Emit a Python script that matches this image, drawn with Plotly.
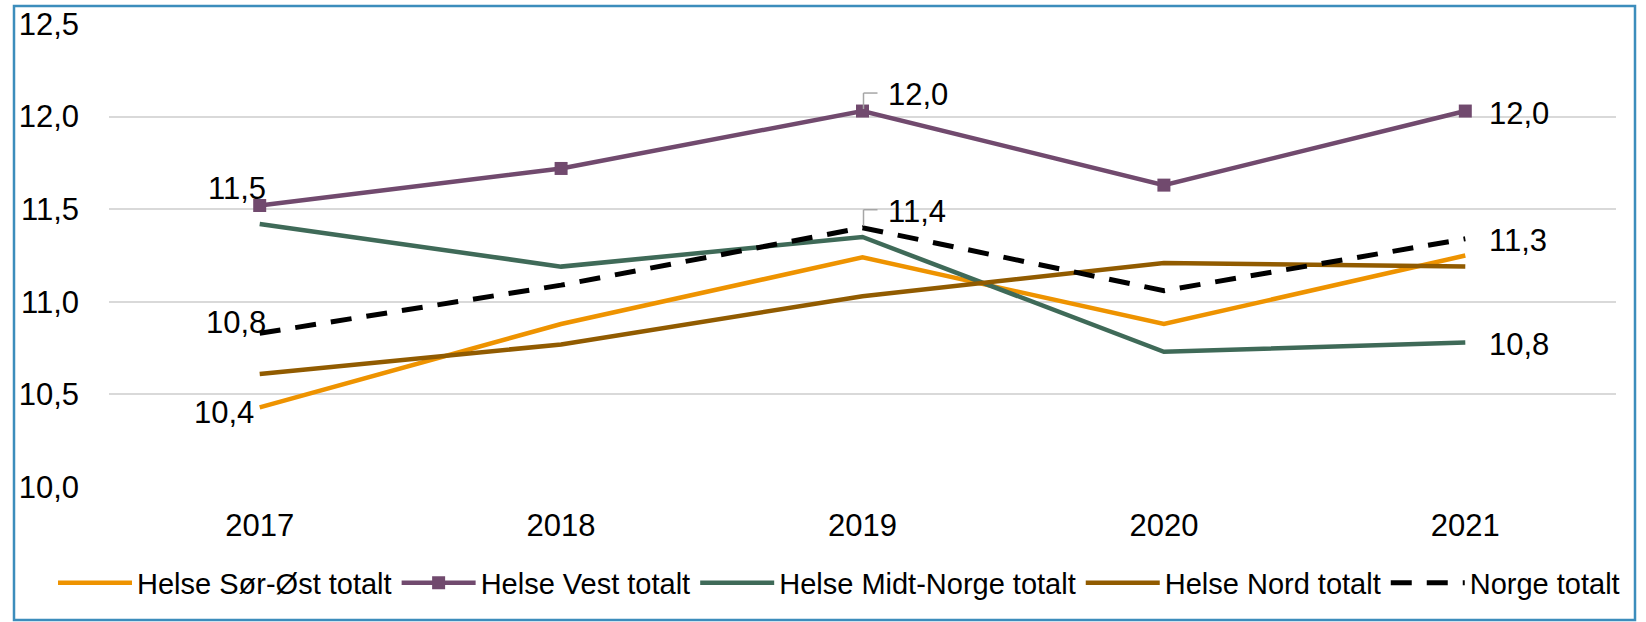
import plotly.graph_objects as go

years = ["2017", "2018", "2019", "2020", "2021"]
sor_ost = [10.43, 10.88, 11.24, 10.88, 11.25]
vest = [11.52, 11.72, 12.03, 11.63, 12.03]
midt = [11.42, 11.19, 11.35, 10.73, 10.78]
nord = [10.61, 10.77, 11.03, 11.21, 11.19]
norge = [10.83, 11.09, 11.40, 11.06, 11.34]
y_ticks = [10.0, 10.5, 11.0, 11.5, 12.0, 12.5]

FONT = "Arial, Liberation Sans, sans-serif"
FS = 31

fig = go.Figure()
fig.add_trace(go.Scatter(x=years, y=sor_ost, name="Helse Sør-Øst totalt", mode="lines",
                         line=dict(color="#EE9300", width=4.5)))
fig.add_trace(go.Scatter(x=years, y=vest, name="Helse Vest totalt", mode="lines+markers",
                         line=dict(color="#714A6E", width=4.5),
                         marker=dict(symbol="square", size=13, color="#714A6E")))
fig.add_trace(go.Scatter(x=years, y=midt, name="Helse Midt-Norge totalt", mode="lines",
                         line=dict(color="#3F6A58", width=4.5)))
fig.add_trace(go.Scatter(x=years, y=nord, name="Helse Nord totalt", mode="lines",
                         line=dict(color="#915B00", width=4.5)))
fig.add_trace(go.Scatter(x=years, y=norge, name="Norge totalt", mode="lines",
                         line=dict(color="#000000", width=5, dash="21px,15px")))


def fmt(v):
    return f"{v:.1f}".replace(".", ",")


labels = [
    # (series, index, xanchor, xshift, yshift, leader)
    (vest, 0, "right", 8, 17, False),
    (norge, 0, "right", 8, 11, False),
    (sor_ost, 0, "right", -4, -5, False),
    (vest, 2, "left", 23, 17, True),
    (norge, 2, "left", 23, 16, True),
    (vest, 4, "left", 22, -2, False),
    (norge, 4, "left", 22, -2, False),
    (midt, 4, "left", 22, -2, False),
]
for series, i, xa, xs, ys, leader in labels:
    fig.add_annotation(xref="x", yref="y", x=i, y=series[i], text=fmt(series[i]),
                       showarrow=False, xanchor=xa, yanchor="middle", xshift=xs, yshift=ys,
                       font=dict(family=FONT, size=FS, color="#000000"))
    if leader:
        for x0, y0, x1, y1 in [(1, 2, 1, 18), (1, 18, 15, 18)]:
            fig.add_shape(type="line", xref="x", yref="y", xsizemode="pixel", ysizemode="pixel",
                          xanchor=i, yanchor=series[i], x0=x0, y0=y0, x1=x1, y1=y1,
                          line=dict(color="#A6A6A6", width=1.5))

# outer frame
L, R, T, B = 109, 30, 24, 135
W, H = 1646, 622
pw, ph = W - L - R, H - T - B
fig.add_shape(type="rect", xref="paper", yref="paper",
              x0=(14 - L) / pw, x1=(1635 - L) / pw,
              y0=-(620 - (H - B)) / ph, y1=((H - B) - 6) / ph,
              line=dict(color="#3C8DBC", width=2.5), fillcolor="rgba(0,0,0,0)", layer="below")

fig.update_layout(
    width=W, height=H,
    margin=dict(l=L, r=R, t=T, b=B),
    paper_bgcolor="white", plot_bgcolor="white",
    separators=", ",
    font=dict(family=FONT, size=FS, color="#000000"),
    xaxis=dict(type="category", range=[-0.5, 4.5], showgrid=False, showline=False,
               ticks="", ticklabelstandoff=17, tickfont=dict(size=FS), automargin=False),
    yaxis=dict(range=[10.0, 12.5], tickvals=y_ticks, tickformat=".1f",
               showgrid=True, gridcolor="#D9D9D9", gridwidth=1.5,
               zeroline=False, showline=False, ticks="", ticklabelstandoff=29,
               tickfont=dict(size=FS), automargin=False),
    legend=dict(orientation="h", x=(53 - L) / pw, xanchor="left", y=-0.207, yanchor="middle",
                font=dict(family=FONT, size=29), itemwidth=74, tracegroupgap=0,
                bgcolor="rgba(0,0,0,0)"),
    showlegend=True,
)

fig.write_html("out.html", config={"displayModeBar": False},
               post_script="document.body.style.margin='0';")
